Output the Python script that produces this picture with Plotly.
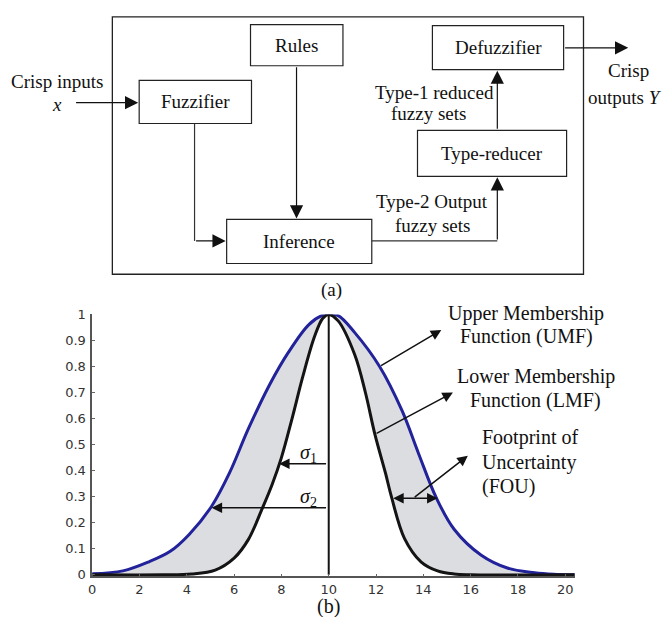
import plotly.graph_objects as go

# ---------------- data ----------------
# Lower membership function (black)
lmf_x = [0, 3, 4.2, 5.2, 6.0, 6.6, 7.2, 7.6, 8.0, 8.45, 8.9, 9.4, 9.75, 10.0,
         10.4, 11.1, 11.55, 11.95, 12.4, 12.65, 13.2, 13.9, 14.6, 15.3, 16.0, 20.4]
lmf_y = [0, 0, 0.003, 0.018, 0.064, 0.135, 0.257, 0.345, 0.45, 0.60, 0.76, 0.915, 0.985, 1.0,
         0.975, 0.845, 0.70, 0.54, 0.39, 0.30, 0.14, 0.05, 0.015, 0.003, 0, 0]
# Upper membership function (blue)
umf_x = [0, 1.3, 2.4, 3.3, 4.1, 5.05, 5.8, 6.6, 7.5, 8.3, 9.15, 9.7, 10.0,
         10.4, 11.1, 12.15, 13.1, 13.8, 14.55, 15.3, 16.45, 17.55, 18.7, 19.5, 20.4]
umf_y = [0.004, 0.015, 0.05, 0.09, 0.155, 0.263, 0.39, 0.56, 0.73, 0.855, 0.96, 0.995, 1.0,
         0.995, 0.93, 0.80, 0.63, 0.465, 0.295, 0.175, 0.075, 0.026, 0.008, 0.002, 0.0]
center_x = [10, 10]
center_y = [0, 1]

x_ticks = [0, 2, 4, 6, 8, 10, 12, 14, 16, 18, 20]
y_ticks = [0, 0.1, 0.2, 0.3, 0.4, 0.5, 0.6, 0.7, 0.8, 0.9, 1]
y_tick_text = ["0", "0.1", "0.2", "0.3", "0.4", "0.5", "0.6", "0.7", "0.8", "0.9", "1"]

block_names = ["Rules", "Fuzzifier", "Inference", "Type-reducer", "Defuzzifier"]

# ---------------- layout constants (pixels of the 666x617 window) ----------------
W, H = 666, 617
SERIF = "Liberation Serif"
box_pos = {
    "Rules": (248, 18, 341, 60),
    "Fuzzifier": (136, 75, 249, 119),
    "Inference": (224, 217, 370, 262),
    "Type-reducer": (416, 126, 566, 173),
    "Defuzzifier": (431, 19, 563, 64),
}

fig = go.Figure()
fig.add_trace(go.Scatter(x=lmf_x, y=lmf_y, mode="lines",
                         line=dict(color="rgba(0,0,0,0)", width=0, shape="spline"),
                         hoverinfo="skip", showlegend=False))
fig.add_trace(go.Scatter(x=umf_x, y=umf_y, mode="lines", fill="tonexty", fillcolor="#dcdde1",
                         line=dict(color="#22229a", width=3, shape="spline"),
                         showlegend=False))
fig.add_trace(go.Scatter(x=lmf_x, y=lmf_y, mode="lines",
                         line=dict(color="#141414", width=3, shape="spline"),
                         showlegend=False))
fig.add_trace(go.Scatter(x=center_x, y=center_y, mode="lines",
                         line=dict(color="#141414", width=2), showlegend=False))
# helper trace for pixel overlay axes
fig.add_trace(go.Scatter(x=[300], y=[300], xaxis="x3", yaxis="y3", mode="markers",
                         marker=dict(opacity=0), hoverinfo="skip", showlegend=False))

shapes = []
annos = []
P = dict(xref="x3", yref="y3")

# outer frame
shapes.append(dict(type="rect", x0=109, y0=10, x1=583, y1=273,
                   line=dict(color="#222", width=1.3), **P))
for name in block_names:
    x0, y0, x1, y1 = box_pos[name]
    shapes.append(dict(type="rect", x0=x0, y0=y0, x1=x1, y1=y1,
                       line=dict(color="#222", width=1.2), fillcolor="white", **P))
    annos.append(dict(x=(x0 + x1) / 2, y=(y0 + y1) / 2, text=name, showarrow=False,
                      font=dict(family=SERIF, size=19, color="#111"), **P))

# plain connector segments
for (a, b, c, d) in [(191.7, 119, 191.7, 239), (370, 239, 496.3, 239)]:
    shapes.append(dict(type="line", x0=a, y0=b, x1=c, y1=d,
                       line=dict(color="#333", width=1.2), **P))

# arrows of the block diagram (tail -> tip)
for (ax, ay, x, y) in [(71, 97.7, 135, 97.7), (191.7, 239, 223, 239),
                       (294.3, 60, 294.3, 216), (496.3, 239, 496.3, 174),
                       (496.3, 126, 496.3, 65), (563, 41.7, 628, 41.7)]:
    annos.append(dict(x=x, y=y, ax=ax, ay=ay, axref="x3", ayref="y3", text="",
                      showarrow=True, arrowhead=2, arrowsize=2.2, arrowwidth=1.2,
                      arrowcolor="#111", **P))

diag_text = [
    ("Crisp inputs", 53, 76, "center"), ("<i>x</i>", 53, 100, "center"),
    ("Type-1 reduced", 433, 87, "center"), ("fuzzy sets", 427, 109, "center"),
    ("Type-2 Output", 431, 199, "center"), ("fuzzy sets", 431, 223, "center"),
    ("Crisp", 628, 65, "center"), ("outputs <i>Y</i>", 664, 92, "right"),
    ("(a)", 329, 289, "center"),
]
for t, x, y, al in diag_text:
    annos.append(dict(x=x, y=y, text=t, showarrow=False, xanchor=al,
                      font=dict(family=SERIF, size=19, color="#111"), **P))

# labels of the membership plot
chart_text = [
    ("Upper Membership", 525, 313, "center"), ("Function (UMF)", 526, 337, "center"),
    ("Lower Membership", 535, 377, "center"), ("Function (LMF)", 535, 402, "center"),
    ("Footprint of", 480, 440, "left"), ("Uncertainty", 480, 465, "left"),
    ("(FOU)", 480, 490, "left"), ("(b)", 326, 612, "center"),
]
for t, x, y, al in chart_text:
    annos.append(dict(x=x, y=y, text=t, showarrow=False, xanchor=al, borderpad=0,
                      font=dict(family=SERIF, size=20, color="#111"), **P))
for t, x, y in [("<i>σ</i><sub>1</sub>", 306, 456), ("<i>σ</i><sub>2</sub>", 306, 501)]:
    annos.append(dict(x=x, y=y, text=t, showarrow=False,
                      font=dict(family=SERIF, size=20, color="#111"), **P))

# arrows in the membership plot (data coordinates; tail -> tip)
for (ax, ay, x, y, side) in [(9.95, 0.426, 7.9, 0.426, "end"),
                             (9.95, 0.257, 5.05, 0.257, "end"),
                             (12.15, 0.80, 14.76, 0.94, "end"),
                             (11.96, 0.54, 15.25, 0.70, "end"),
                             (12.66, 0.294, 14.6, 0.294, "end+start"),
                             (13.57, 0.294, 15.88, 0.457, "end")]:
    annos.append(dict(x=x, y=y, ax=ax, ay=ay, xref="x", yref="y", axref="x", ayref="y",
                      text="", showarrow=True, arrowhead=2, arrowsize=1.4, arrowwidth=1.5,
                      arrowside=side, arrowcolor="#111"))

tick_font = dict(family="DejaVu Sans", size=13, color="#333")
fig.update_layout(
    width=W, height=H, margin=dict(l=0, r=0, t=0, b=0), autosize=False,
    paper_bgcolor="white", plot_bgcolor="rgba(0,0,0,0)",
    xaxis=dict(domain=[88.7 / W, 574.2 / W], range=[0, 20.4], tickvals=x_ticks,
               showline=True, linecolor="#555", linewidth=1.5, ticks="inside", ticklen=3,
               tickcolor="#666", showgrid=False, zeroline=False, tickfont=tick_font,
               fixedrange=True),
    yaxis=dict(domain=[(H - 581.6) / H, (H - 314) / H], range=[-0.006, 1.0],
               tickvals=y_ticks, ticktext=y_tick_text, ticklabelstandoff=2,
               showline=True, linecolor="#555", linewidth=1.5, ticks="inside", ticklen=3,
               tickcolor="#666", showgrid=False, zeroline=False, tickfont=tick_font,
               fixedrange=True),
    xaxis3=dict(domain=[0, 1], range=[0, W], visible=False, anchor="y3", fixedrange=True),
    yaxis3=dict(domain=[0, 1], range=[H, 0], visible=False, anchor="x3", fixedrange=True),
    shapes=shapes, annotations=annos, showlegend=False,
)
# remove the page's default 8px body margin so the figure fills the window
fig.write_html("out.html", config={"displayModeBar": False},
               post_script="document.body.style.margin='0px';document.body.style.overflow='hidden';")
